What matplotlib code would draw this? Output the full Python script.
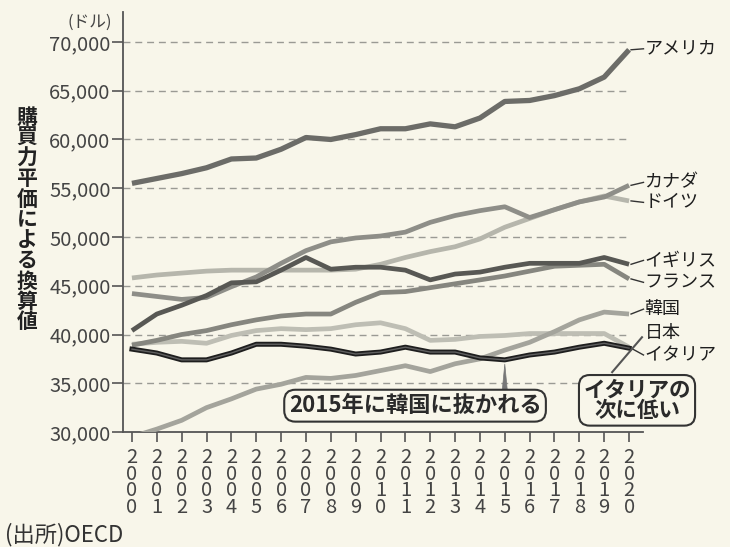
import matplotlib
matplotlib.use("Agg")
import matplotlib.pyplot as plt

plt.rcParams['font.family'] = ['Noto Sans CJK JP', 'DejaVu Sans']

years = list(range(2000, 2021))
usa = [55500, 56000, 56500, 57100, 58000, 58100, 59000, 60200, 60000, 60500, 61100,
       61100, 61600, 61300, 62200, 63900, 64000, 64500, 65200, 66400, 69200]
canada = [44200, 43900, 43600, 43800, 44900, 45900, 47300, 48600, 49500, 49900, 50100,
          50500, 51500, 52200, 52700, 53100, 52000, 52800, 53600, 54100, 55300]
germany = [45800, 46100, 46300, 46500, 46600, 46600, 46600, 46600, 46600, 46700, 47200,
           47900, 48500, 49000, 49800, 51000, 51900, 52800, 53600, 54200, 53700]
uk = [40400, 42100, 43000, 44000, 45300, 45400, 46600, 47900, 46700, 46900, 46900,
      46600, 45600, 46200, 46400, 46900, 47300, 47300, 47300, 47900, 47200]
france = [38900, 39400, 40000, 40400, 41000, 41500, 41900, 42100, 42100, 43300, 44300,
          44400, 44800, 45200, 45600, 46000, 46500, 47000, 47100, 47200, 45700]
korea = [29500, 30300, 31200, 32500, 33400, 34400, 34900, 35600, 35500, 35800, 36300,
         36800, 36200, 37000, 37500, 38400, 39200, 40300, 41500, 42300, 42100]
japan = [39000, 39200, 39300, 39100, 39900, 40400, 40600, 40500, 40600, 41000, 41200,
         40600, 39400, 39500, 39800, 39900, 40100, 40100, 40100, 40100, 38700]
italy = [38500, 38100, 37400, 37400, 38100, 39000, 39000, 38800, 38500, 38000, 38200,
         38700, 38200, 38200, 37600, 37400, 37900, 38200, 38700, 39100, 38600]

names = ['アメリカ', 'カナダ', 'ドイツ', 'イギリス', 'フランス', '韓国', '日本', 'イタリア']
label_y = [69300, 55600, 53550, 47600, 45350, 42600, 40150, 37900]
yticks = [30000, 35000, 40000, 45000, 50000, 55000, 60000, 65000, 70000]
ylabel = "購買力平価による換算値"

bg = "#f8f6ea"
fig = plt.figure(figsize=(7.3, 5.47), dpi=100, facecolor=bg)
ax = fig.add_axes([0.1685, 0.2102, 0.7123, 0.7678])
ax.set_facecolor(bg)

ax.set_xlim(1999.64, 2020.56)
ax.set_ylim(30000, 73070)

# dashed guide lines, stop at 2020
for v in yticks[1:]:
    ax.plot([1999.64, 2020.05], [v, v], color="#9a9a94", lw=1.0,
            dashes=(5, 3.5), zorder=1)

series = [
    (germany, "#b6b6ac", 3.4),
    (japan, "#bebeb4", 3.4),
    (korea, "#a4a49c", 3.4),
    (france, "#86867f", 3.4),
    (canada, "#8e8e88", 3.4),
    (uk, "#585854", 3.4),
    (usa, "#6c6c68", 3.8),
]
for vals, col, lw in series:
    ax.plot(years, vals, color=col, lw=lw, solid_capstyle='butt', zorder=3)
ax.plot(years, italy, color="#1e1e1e", lw=3.6, zorder=4)
ax.plot(years, italy, color="#606060", lw=1.0, zorder=5)

# right-hand labels with short leaders
ends = [usa, canada, germany, uk, france, korea, japan, italy]
for name, ly, vals in zip(names, label_y, ends):
    ax.text(2020.62, ly, name, fontsize=13, color="#1e1e1e",
            va='center', ha='left', clip_on=False)
    if name != '日本':
        ax.plot([2020.08, 2020.58], [vals[-1], ly], color="#333333", lw=1.0,
                clip_on=False, zorder=6)

# 日本 leader down to the callout box
ax.plot([2020.52, 2019.32], [39720, 36140], color="#555555", lw=1.5,
        clip_on=False, zorder=6)

# callouts
box = dict(boxstyle="round,pad=0.2,rounding_size=0.5", fc=bg, ec="#333333", lw=1.5)
ax.text(2011.39, 32700, "2015年に韓国に抜かれる", fontsize=16, fontweight='bold',
        color="#2a2a2a", ha='center', va='center', bbox=box, zorder=7)
ax.annotate("", xy=(2015, italy[15] - 150), xytext=(2015, 34100),
            arrowprops=dict(arrowstyle="wedge,tail_width=0.35", fc="#777777",
                            ec="#777777", lw=0.5), zorder=6)
ax.text(2020.32, 33250, "イタリアの\n次に低い", fontsize=15.5, fontweight='bold',
        color="#2a2a2a", ha='center', va='center', linespacing=1.0,
        bbox=box, zorder=7, clip_on=False)

# axes styling
for s in ['top', 'right']:
    ax.spines[s].set_visible(False)
for s in ['left', 'bottom']:
    ax.spines[s].set_color("#555555")
    ax.spines[s].set_linewidth(1.3)

ax.set_yticks(yticks)
ax.set_yticklabels([f"{v:,}" for v in yticks])
ax.set_xticks(years)
ax.set_xticklabels(["\n".join(str(y)) for y in years], linespacing=0.72)
ax.tick_params(axis='y', direction='out', length=8, width=1.2, color="#555555",
               labelsize=14.5, labelcolor="#444444", pad=1)
ax.tick_params(axis='x', direction='out', length=7, width=1.2, color="#555555",
               labelsize=14.5, labelcolor="#444444", pad=4)

fig.text(112 / 730, 1 - 22 / 547, "(ドル)", fontsize=12, color="#444444",
         ha='right', va='center')
# stacked vertical label, one character per row
for i, ch in enumerate(ylabel):
    fig.text(27 / 730, 1 - (117 + 20.5 * i) / 547, ch, fontsize=15,
             fontweight='bold', color="#222222", ha='center', va='center')
fig.text(5 / 730, 1 - 535 / 547, "(出所)OECD", fontsize=16, color="#333333",
         ha='left', va='center')

fig.savefig("out.png", dpi=100, facecolor=bg)
